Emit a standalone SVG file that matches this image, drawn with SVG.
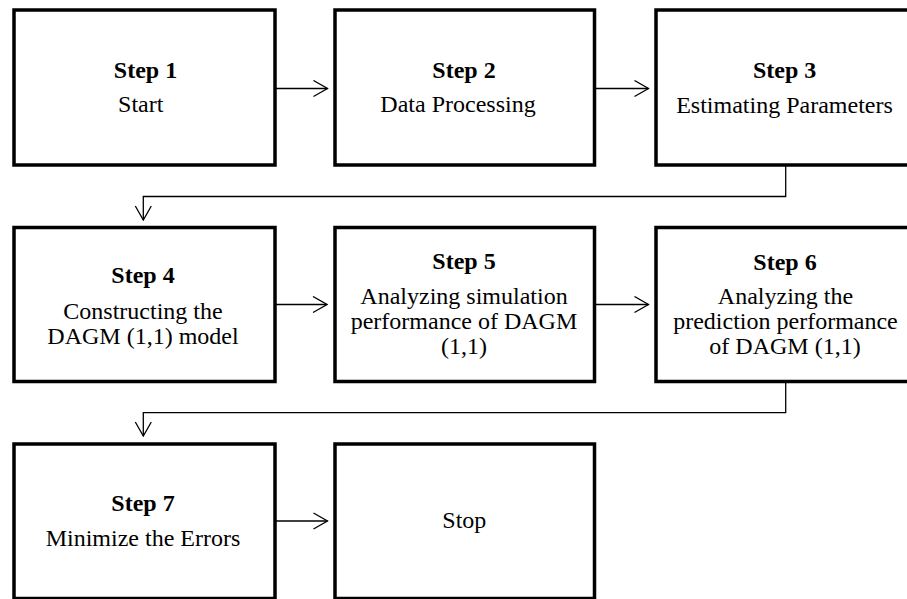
<svg xmlns="http://www.w3.org/2000/svg" width="907" height="599" viewBox="0 0 907 599">
<defs>
<style>
.box{fill:#fff;stroke:#000;stroke-width:3.5}
.t{font-family:"Liberation Serif","Times New Roman",serif;font-size:24px;fill:#000;text-anchor:middle}
.b{font-weight:bold}
.c{fill:none;stroke:#000;stroke-width:1.3}
</style>
<marker id="ah" viewBox="0 0 16 18" refX="15" refY="9" markerWidth="16" markerHeight="18" markerUnits="userSpaceOnUse" orient="auto">
<path d="M1,1 L15,9 L1,17" fill="none" stroke="#000" stroke-width="1.3"/>
</marker>
</defs>
<rect width="907" height="599" fill="#fff"/>
<g id="connectors">
<line class="c" x1="276" y1="88.5" x2="327.5" y2="88.5" marker-end="url(#ah)"/>
<line class="c" x1="596" y1="88.5" x2="648.5" y2="88.5" marker-end="url(#ah)"/>
<polyline class="c" points="785.7,166 785.7,196.5 143.3,196.5 143.3,220" marker-end="url(#ah)"/>
<line class="c" x1="276" y1="304.5" x2="327" y2="304.5" marker-end="url(#ah)"/>
<line class="c" x1="596" y1="304.5" x2="648.5" y2="304.5" marker-end="url(#ah)"/>
<polyline class="c" points="785.7,382 785.7,412.7 143.3,412.7 143.3,436" marker-end="url(#ah)"/>
<line class="c" x1="276" y1="521" x2="327.5" y2="521" marker-end="url(#ah)"/>
</g>
<g id="step1">
<rect class="box" x="14" y="10" width="261" height="155"/>
<text class="t b" x="145.5" y="77.5">Step 1</text>
<text class="t" x="140.7" y="112">Start</text>
</g>
<g id="step2">
<rect class="box" x="335" y="10" width="259.5" height="155"/>
<text class="t b" x="464" y="77.5">Step 2</text>
<text class="t" x="458" y="112">Data Processing</text>
</g>
<g id="step3">
<rect class="box" x="656" y="10" width="261" height="155"/>
<text class="t b" x="784.7" y="78">Step 3</text>
<text class="t" x="784.5" y="112.5">Estimating Parameters</text>
</g>
<g id="step4">
<rect class="box" x="14" y="227.5" width="261" height="154"/>
<text class="t b" x="143" y="283">Step 4</text>
<text class="t" x="143" y="318.5">Constructing the</text>
<text class="t" x="143" y="343.5">DAGM (1,1) model</text>
</g>
<g id="step5">
<rect class="box" x="335" y="227.5" width="259.5" height="154"/>
<text class="t b" x="464" y="269.3">Step 5</text>
<text class="t" x="464" y="304">Analyzing simulation</text>
<text class="t" x="464" y="328.7">performance of DAGM</text>
<text class="t" x="464" y="353.5">(1,1)</text>
</g>
<g id="step6">
<rect class="box" x="656" y="227.5" width="261" height="154"/>
<text class="t b" x="785" y="270">Step 6</text>
<text class="t" x="785.5" y="304">Analyzing the</text>
<text class="t" x="785.5" y="328.7">prediction performance</text>
<text class="t" x="785" y="353.8">of DAGM (1,1)</text>
</g>
<g id="step7">
<rect class="box" x="14" y="444" width="261" height="154.5"/>
<text class="t b" x="143" y="510.7">Step 7</text>
<text class="t" x="143" y="545.7">Minimize the Errors</text>
</g>
<g id="stop">
<rect class="box" x="335" y="444" width="259.5" height="154.5"/>
<text class="t" x="464.3" y="527.7">Stop</text>
</g>
</svg>
